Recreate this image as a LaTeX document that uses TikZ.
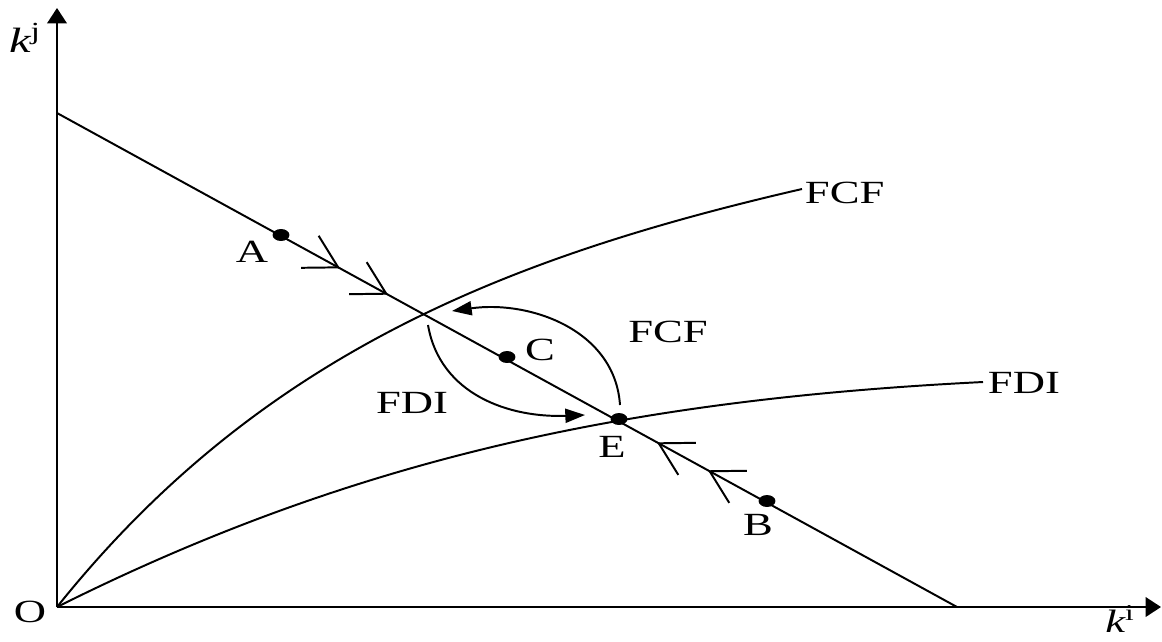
\documentclass[tikz,border=0pt]{standalone}
\usepackage{fontspec}
\setmainfont{Liberation Serif}
\usetikzlibrary{arrows.meta,decorations.markings,shapes.geometric}
\newcommand{\wide}[1]{\scalebox{1.38}[1]{#1}}
\begin{document}
\begin{tikzpicture}[x=0.025cm, y=-0.025cm,
    line width=1.4pt,
    dot/.style={ellipse, fill, inner sep=0pt, minimum width=12pt, minimum height=8.5pt},
    lbl/.style={inner sep=0pt, font=\fontsize{23}{26}\selectfont},
    axis/.style={-{Triangle[length=11pt,width=14pt]}},
    turn/.style={-{Triangle[length=14pt,width=10pt]}},
    cv/.tip={Straight Barb[length=23pt,width=26pt]}]
  \useasboundingbox (0,0) rectangle (1162,641);

  % axes
  \coordinate (O) at (57,607);
  \coordinate (jtop) at (57,8);
  \coordinate (itip) at (1161,607);
  \draw[axis] (O) -- (jtop);
  \draw[axis] (O) -- (itip);
  \node[lbl] (Olbl) at (30,612) {\wide{O}};
  \node[lbl] (kj) at (25,38) {\wide{\fontsize{25}{28}\selectfont\itshape k\textsuperscript{\upshape j}}};
  \node[lbl] (ki) at (1120,619) {\wide{\fontsize{23}{26}\selectfont\itshape k\textsuperscript{\upshape i}}};

  % descending line with chevrons
  \coordinate (top) at (57,113);
  \coordinate (bot) at (957,607);
  \draw[postaction={decorate}, decoration={markings,
      mark=at position 0.3144 with {\arrow{cv}},
      mark=at position 0.3678 with {\arrow{cv}},
      mark=at position 0.6667 with {\arrowreversed{cv}},
      mark=at position 0.7233 with {\arrowreversed{cv}}}]
    (top) -- (bot);

  % curves
  \coordinate (fcfend) at (802,189);
  \coordinate (fdiend) at (983,382);
  \draw (O) .. controls (257,357) and (502,258) .. (fcfend);
  \draw (O) .. controls (357,457) and (633,399.5) .. (fdiend);
  \node[lbl, anchor=west] (fcf1) at (804,193) {\wide{FCF}};
  \node[lbl, anchor=west] (fdi1) at (987,383) {\wide{FDI}};

  % points
  \node[dot] (A) at (281,235) {};
  \node[dot] (C) at (507,357) {};
  \node[dot] (E) at (619,419) {};
  \node[dot] (B) at (767,501) {};
  \node[lbl] (Albl) at (252,252) {\wide{A}};
  \node[lbl] (Clbl) at (540,350) {\wide{C}};
  \node[lbl] (Elbl) at (612,447) {\wide{E}};
  \node[lbl] (Blbl) at (758,525) {\wide{B}};

  % turning arrows
  \coordinate (fcfs) at (620,405);
  \coordinate (fcft) at (452,311);
  \coordinate (fdis) at (428,325);
  \coordinate (fdit) at (585,415);
  \draw[turn] (fcfs) .. controls (615,330) and (530,300) .. (fcft);
  \draw[turn] (fdis) .. controls (440,395) and (510,418) .. (fdit);
  \node[lbl] (fcf2) at (668,332) {\wide{FCF}};
  \node[lbl] (fdi2) at (412,403) {\wide{FDI}};

\end{tikzpicture}
\end{document}
